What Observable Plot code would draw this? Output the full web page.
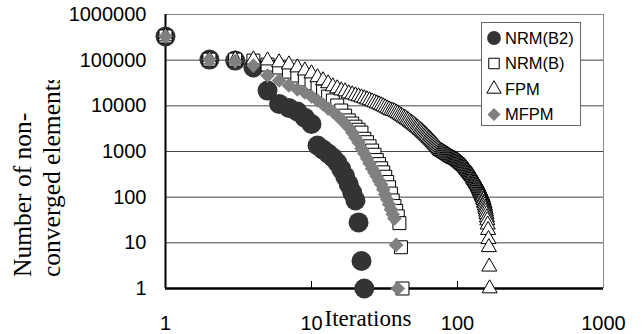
<!DOCTYPE html>
<html><head><meta charset="utf-8">
<script src="https://cdn.jsdelivr.net/npm/d3@7"></script>
<script src="https://cdn.jsdelivr.net/npm/@observablehq/plot@0.6"></script>
<style>
html,body{margin:0;padding:0;background:#fff;}
#chart{position:relative;width:644px;height:334px;}
</style></head><body><div id="chart"></div>
<script>
// ---- data (number of non-converged elements per iteration, iteration = index + 1)
const seriesNames = ["NRM(B2)", "NRM(B)", "FPM", "MFPM"];
const nrmB2 = [330000,103000,98000,69000,21600,11000,9000,7500,5500,4000,
  1350,1100,900,740,575,410,285,190,126,85,
  28,4,1];
const nrmB = [330000,103000,103000,98000,80000,69000,56000,46000,37700,31000,
  25200,20600,16000,13100,10200,7900,6100,4800,4100,3500,
  3000,2600,1900,1600,1300,1050,850,650,530,430,
  350,280,215,165,120,85,64,50,38,27,
  8,1];
const fpm = [330000,103000,103000,103000,98000,89000,80000,69000,59000,51000,
  42000,36000,31000,26500,24000,21600,20600,18600,17700,16800,
  16000,15200,14500,13700,13100,12400,11800,11200,10700,10200,
  9700,9200,8700,8300,7900,7700,7500,7100,6800,6400,
  6100,5800,5500,5300,5000,4800,4500,4300,4100,3900,
  3700,3500,3350,3200,3000,2900,2750,2600,2470,2350,
  2240,2130,2000,1930,1830,1740,1650,1570,1490,1420,
  1350,1280,1220,1160,1100,1050,1020,1000,980,950,
  930,900,880,860,840,820,800,780,760,740,
  730,720,700,690,680,670,660,650,635,620,
  600,590,575,560,545,530,520,505,490,480,
  470,450,440,425,405,395,385,365,355,345,
  330,320,315,300,290,285,270,255,245,235,
  230,220,210,200,195,190,180,170,163,155,
  147,140,133,126,120,114,108,103,98,89,
  85,76,73,66,59,54,48,42,36,31,
  25,19,12,8,3,1];
const mfpm = [330000,103000,95000,76000,46000,36000,28000,23000,19600,16000,
  13100,10700,8700,7500,6100,5000,4100,3350,2600,2000,
  1570,1160,900,700,545,425,345,285,230,190,
  147,114,89,69,54,42,34,9,1];
const xTicks = [1, 10, 100, 1000];
const yTicks = [1, 10, 100, 1000, 10000, 100000, 1000000];
const xLabel = "Iterations";
const yLabelLines = ["Number of non-", "converged elements"];

const toRows = (arr) => arr.map((v, i) => ({iter: i + 1, value: v}));

const sansFont = "'Liberation Sans', Arial, sans-serif";
const serifFont = "'Liberation Serif', 'Times New Roman', serif";

const chart = Plot.plot({
  width: 644, height: 334,
  marginLeft: 165, marginRight: 41, marginTop: 14, marginBottom: 46,
  x: {type: "log", domain: [1, 1000]},
  y: {type: "log", domain: [1, 1000000]},
  style: {fontFamily: sansFont, fontSize: "20px", color: "#000", background: "#fff", overflow: "visible"},
  marks: [
    Plot.ruleY(yTicks.slice(1, -1), {stroke: "#444", strokeWidth: 1}),
    Plot.ruleY([1000000], {stroke: "#888", strokeWidth: 1}),
    Plot.ruleX([1000], {stroke: "#888", strokeWidth: 1}),
    Plot.tickX(xTicks.slice(1, -1), {stroke: "#000", strokeWidth: 1, insetTop: 267}),
    Plot.ruleX([1], {stroke: "#000", strokeWidth: 2}),
    Plot.ruleY([1], {stroke: "#000", strokeWidth: 2.5}),
    Plot.axisX({ticks: xTicks, tickFormat: d => String(d), tickSize: 0, tickPadding: 27, label: null}),
    Plot.axisY({ticks: yTicks, tickFormat: d => String(d), tickSize: 0, tickPadding: 19, label: null}),
    Plot.dot(toRows(nrmB2), {x: "iter", y: "value", symbol: "circle", r: 10, fill: "#333333", stroke: "none"}),
    Plot.dot(toRows(nrmB), {x: "iter", y: "value", symbol: "square", r: 7.3, fill: "#fff", stroke: "#000", strokeWidth: 1}),
    Plot.dot(toRows(fpm), {x: "iter", y: "value", symbol: "triangle", r: 5.6, fill: "#fff", stroke: "#000", strokeWidth: 1}),
    Plot.dot(toRows(mfpm), {x: "iter", y: "value", symbol: "diamond2", r: 6.6, fill: "#808080", stroke: "none"})
  ]
});
document.getElementById("chart").appendChild(chart);

const svg = d3.select(chart);

// axis titles
svg.append("text")
  .attr("x", 368).attr("y", 326)
  .attr("text-anchor", "middle")
  .attr("font-family", serifFont).attr("font-size", 23)
  .text(xLabel);

const clipId = "ylabclip";
svg.append("defs").append("clipPath").attr("id", clipId)
  .append("rect").attr("x", 0).attr("y", 80).attr("width", 100).attr("height", 254);
const yl = svg.append("g").attr("clip-path", `url(#${clipId})`)
  .attr("font-family", serifFont).attr("font-size", 25.5)
  .attr("text-anchor", "start");
yLabelLines.forEach((t, i) => {
  yl.append("text")
    .attr("transform", `translate(${31 + i * 29},277) rotate(-90)`)
    .attr("text-anchor", "start")
    .text(t);
});

// legend
const legendStyles = [
  {type: d3.symbolCircle, size: 150, fill: "#333333", stroke: "none"},
  {type: d3.symbolSquare, size: 110, fill: "#fff", stroke: "#000"},
  {type: d3.symbolTriangle, size: 90, fill: "#fff", stroke: "#000"},
  {type: d3.symbolDiamond2, size: 110, fill: "#808080", stroke: "none"}
];
const lg = svg.append("g");
lg.append("rect").attr("x", 481.5).attr("y", 22.5).attr("width", 99).attr("height", 103)
  .attr("fill", "#fff").attr("stroke", "#666").attr("stroke-width", 1);
seriesNames.forEach((name, i) => {
  const cy = 38 + i * 25.5;
  const s = legendStyles[i];
  lg.append("path")
    .attr("d", d3.symbol(s.type, s.size)())
    .attr("transform", `translate(494,${cy})`)
    .attr("fill", s.fill).attr("stroke", s.stroke).attr("stroke-width", 1);
  lg.append("text")
    .attr("x", 505).attr("y", cy).attr("dy", "0.35em")
    .attr("text-anchor", "start")
    .attr("font-family", sansFont).attr("font-size", 16.5)
    .text(name);
});
</script></body></html>
